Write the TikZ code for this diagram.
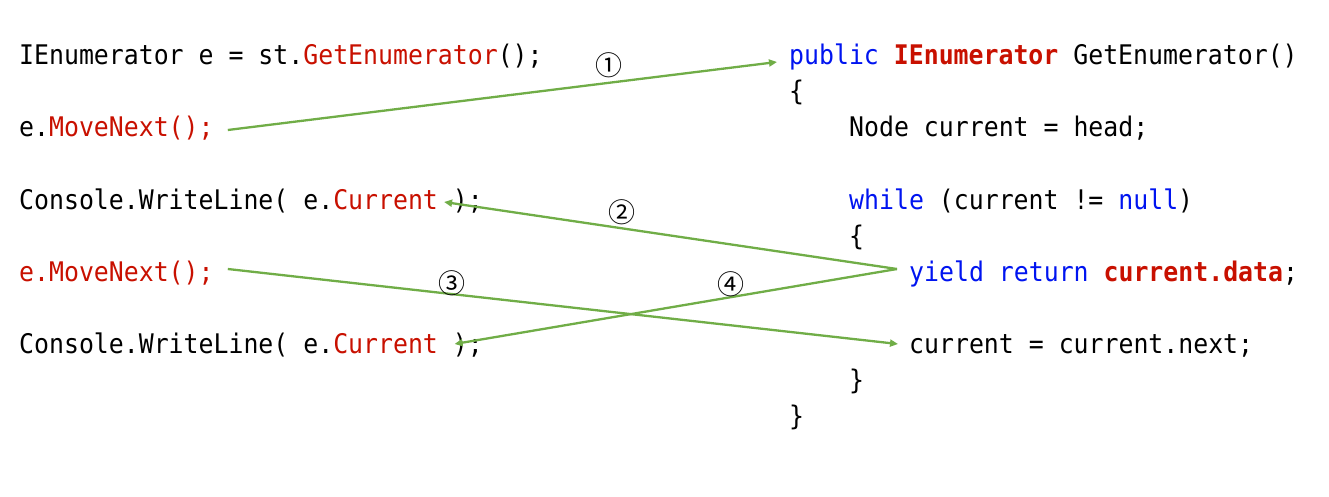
\documentclass[tikz,border=0pt]{standalone}
\usepackage{fontspec}
\usetikzlibrary{arrows.meta,calc}
\newfontfamily\codefont[FakeStretch=0.92]{DejaVu Sans Mono}
\newfontfamily\numfont{Noto Sans CJK KR}
\definecolor{kred}{RGB}{200,16,0}
\definecolor{kblue}{RGB}{0,20,240}
\definecolor{agreen}{RGB}{112,173,71}
\newcommand{\Rd}[1]{\textcolor{kred}{#1}}
\newcommand{\RdB}[1]{\textcolor{kred}{\bfseries #1}}
\newcommand{\Bl}[1]{\textcolor{kblue}{#1}}
\begin{document}
\begin{tikzpicture}[x=1pt,y=-1pt,
  code/.style={anchor=base west,inner sep=0pt,font=\codefont\fontsize{27}{30}\selectfont,text=black},
  num/.style={inner sep=0pt,font=\numfont\fontsize{27}{29}\selectfont},
  flow/.style={draw=agreen,line width=2.3pt,-{Triangle[length=8pt,width=7pt]}}]
\useasboundingbox (0,0) rectangle (1329,497);
% left column
\node[code] (L1) at (19,65) {IEnumerator e = st.\Rd{GetEnumerator}();};
\node[code] (L2) at (19,137) {e.\Rd{MoveNext();}};
\node[code] (L3) at (19,209) {Console.WriteLine( e.\Rd{Current} );};
\node[code] (L4) at (19,281) {\Rd{e.MoveNext();}};
\node[code] (L5) at (19,353) {Console.WriteLine( e.\Rd{Current} );};
% right column
\node[code] (R1) at (789,65) {\Bl{public} \RdB{IEnumerator} GetEnumerator()};
\node[code] (R2) at (789,101) {\{};
\node[code] (R3) at (849,137) {Node current = head;};
\node[code] (R5) at (849,209) {\Bl{while} (current != \Bl{null})};
\node[code] (R6) at (849,245) {\{};
\node[code] (R7) at (909,281) {\Bl{yield return} \RdB{current.data};};
\node[code] (R9) at (909,353) {current = current.next;};
\node[code] (R10) at (849,389) {\}};
\node[code] (R11) at (789,425) {\}};
% connector end points
\coordinate (s1) at ($(L2.base east)+(14,-7)$);
\coordinate (e1) at ($(R1.base west)+(-12,-3)$);
\coordinate (s2) at ($(R7.base west)+(-12,-12)$);
\coordinate (e2) at ($(L3.base west)!28.4/31!(L3.base east)+(0,-7)$);
\coordinate (s3) at ($(L4.base east)+(14,-12)$);
\coordinate (e3) at ($(R9.base west)+(-11,-9)$);
\coordinate (e4) at ($(L5.base west)!29.1/31!(L5.base east)+(0,-9)$);
% connectors
\draw[flow] (s1) -- (e1);
\draw[flow] (s2) -- (e2);
\draw[flow] (s3) -- (e3);
\draw[flow] (s2) -- (e4);
% labels
\node[num] (n1) at (609,65) {①};
\node[num] (n2) at (622,212) {②};
\node[num] (n3) at (452,283) {③};
\node[num] (n4) at (731,284) {④};
\end{tikzpicture}
\end{document}
